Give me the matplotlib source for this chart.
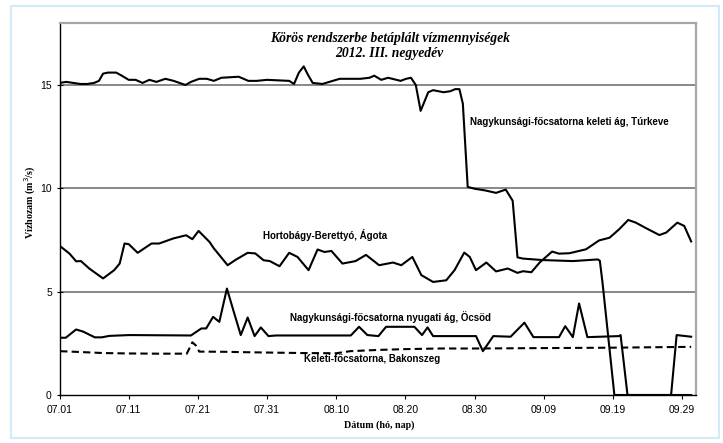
import matplotlib
matplotlib.use("Agg")
import matplotlib.pyplot as plt
from matplotlib.patches import Rectangle

# ---- data (day index from 07.01, value m3/s) ----
turkeve_days = [0, 1, 2, 3, 4, 5, 5.7, 6.3, 7, 8.2, 9, 10, 11, 12, 13, 14, 15.3, 16.5, 18.2, 19,
                20.2, 21.3, 22.3, 23.4, 25.9, 27.3, 28.5, 30, 33.2, 33.9, 34.6, 35.3, 35.9, 36.6, 38,
                39.5, 40.5, 43.5, 44.8, 45.5, 46.5, 47.5, 49.3, 50.1, 50.8, 51.5, 52.2, 53.3, 54,
                55.5, 56.5, 57.2, 57.8, 58.3, 59.0, 60, 61.5, 63.1, 64.5, 65.5, 66.2, 67, 69.8,
                74.2, 77.8, 78.1, 78.5, 80.2, 91.3]
turkeve_vals = [15.1, 15.15, 15.1, 15.05, 15.05, 15.1, 15.2, 15.55, 15.6, 15.6, 15.45, 15.25, 15.25,
                15.1, 15.25, 15.15, 15.3, 15.2, 15.0, 15.15, 15.3, 15.3, 15.2, 15.35, 15.4, 15.2,
                15.2, 15.25, 15.2, 15.05, 15.6, 15.9, 15.5, 15.1, 15.05, 15.2, 15.3, 15.3, 15.35,
                15.45, 15.25, 15.35, 15.2, 15.3, 15.35, 15.0, 13.75, 14.65, 14.75, 14.65, 14.7,
                14.8, 14.8, 14.1, 10.07, 9.98, 9.9, 9.78, 9.94, 9.4, 6.66, 6.6, 6.53, 6.48, 6.56,
                6.5, 5.4, 0.0, 0.0]

agota_days = [0.1, 1.45, 2.4, 3.1, 4.3, 6.3, 7.9, 8.7, 9.4, 10, 11.3, 13.3, 14.4, 16.4, 18.3,
              19.2, 20.1, 21.7, 22.3, 24.3, 25.5, 27.2, 28.3, 29.5, 30.4, 31.8, 33.2, 34.4, 36.0,
              37.3, 38.3, 39.3, 40.9, 42.8, 44.3, 46.2, 48.2, 49.4, 51.0, 52.3, 54.0, 55.9, 57.1,
              58.5, 59.3, 60.2, 61.7, 63.1, 64.8, 66.2, 67.0, 68.2, 69.4, 71.2, 72.2, 73.7, 76.1,
              78.0, 79.5, 80.9, 82.2, 83.3, 84.8, 86.7, 87.7, 89.3, 90.3, 91.3]
agota_vals = [7.2, 6.84, 6.47, 6.48, 6.12, 5.64, 6.04, 6.36, 7.33, 7.3, 6.88, 7.33, 7.33, 7.57,
              7.73, 7.54, 7.94, 7.4, 7.1, 6.28, 6.55, 6.88, 6.85, 6.52, 6.48, 6.23, 6.88, 6.68,
              6.04, 7.04, 6.92, 6.97, 6.36, 6.48, 6.78, 6.28, 6.41, 6.28, 6.68, 5.8, 5.47, 5.55,
              6.04, 6.89, 6.68, 6.04, 6.41, 5.98, 6.12, 5.91, 5.99, 5.94, 6.41, 6.94, 6.84, 6.86,
              7.05, 7.48, 7.61, 8.02, 8.47, 8.34, 8.07, 7.74, 7.86, 8.34, 8.18, 7.43]

ocsod_days = [0.1, 0.9, 2.4, 3.4, 5.1, 6.1, 7.2, 10.1, 19.0, 20.5, 21.2, 22.2, 23.1, 24.2, 25.3,
              26.2, 27.2, 28.2, 29.1, 30.2, 31.3, 42.1, 43.3, 44.5, 46.1, 47.2, 51.3, 52.4, 53.2,
              54.0, 60.2, 61.2, 62.7, 65.2, 67.2, 68.5, 72.2, 73.1, 74.2, 75.1, 76.3, 80.9, 81.1,
              82.1, 88.4, 89.2, 91.3]
ocsod_vals = [2.77, 2.77, 3.17, 3.07, 2.79, 2.79, 2.86, 2.9, 2.88, 3.22, 3.22, 3.78, 3.54, 5.15,
              3.9, 2.9, 3.75, 2.85, 3.27, 2.85, 2.88, 2.88, 3.3, 2.9, 2.85, 3.3, 3.3, 2.9, 3.27,
              2.85, 2.85, 2.12, 2.85, 2.82, 3.5, 2.8, 2.8, 3.33, 2.8, 4.43, 2.8, 2.85, 2.9, 0.0,
              0.0, 2.9, 2.82]

bakonszeg_days = [0.1, 3, 6.3, 10, 14, 18.4, 19.2, 19.7, 20.2, 24, 27, 31, 35, 40, 42, 46, 50, 55,
                  60, 70, 80, 91.3]
bakonszeg_vals = [2.12, 2.08, 2.03, 2.01, 2.0, 2.0, 2.55, 2.4, 2.1, 2.09, 2.07, 2.05, 2.03, 2.02,
                  2.12, 2.18, 2.22, 2.25, 2.25, 2.27, 2.29, 2.33]

tick_days = [0, 10, 20, 30, 40, 50, 60, 70, 80, 90]
tick_labels = ["07.01", "07.11", "07.21", "07.31", "08.10", "08.20", "08.30", "09.09", "09.19", "09.29"]
y_ticks = [0, 5, 10, 15]

W, H = 723, 443
fig = plt.figure(figsize=(W / 100, H / 100), dpi=100)
fig.patch.set_facecolor("white")

# outer light-blue frame
fig.patches.append(Rectangle((11 / W, 1 - 438 / H), (719 - 11) / W, (438 - 6) / H,
                             transform=fig.transFigure, fill=False,
                             edgecolor="#d2eaf9", linewidth=1.6))

ax = fig.add_axes([59.5 / W, (H - 395) / H, (696 - 59.5) / W, (395 - 23) / H])
ax.set_xlim(0, 92)
ax.set_ylim(0, 18)

for yv in [5, 10, 15]:
    ax.axhline(yv, color="#7f7f7f", lw=1.3, zorder=1)

lw = 1.5
ax.plot(turkeve_days, turkeve_vals, color="black", lw=lw, zorder=3, solid_joinstyle="round")
ax.plot(agota_days, agota_vals, color="black", lw=lw, zorder=3, solid_joinstyle="round")
ax.plot(ocsod_days, ocsod_vals, color="black", lw=lw, zorder=3, solid_joinstyle="round")
ax.plot(bakonszeg_days, bakonszeg_vals, color="black", lw=1.5, zorder=3,
        linestyle=(0, (3.5, 2.0)))

ax.set_xticks(tick_days)
ax.set_xticklabels(tick_labels)
ax.set_yticks(y_ticks)
ax.tick_params(axis="x", direction="out", length=3, width=0.8, labelsize=7.5, pad=4)
ax.tick_params(axis="y", direction="inout", length=5, width=0.8, labelsize=7.5, pad=3)
for lab in ax.get_xticklabels() + ax.get_yticklabels():
    lab.set_fontfamily("Liberation Sans")

ax.spines["left"].set_color("black")
ax.spines["bottom"].set_color("black")
ax.spines["top"].set_color("#a6a6a6")
ax.spines["right"].set_color("#a6a6a6")
for s in ax.spines.values():
    s.set_linewidth(1.0)
ax.spines["top"].set_linewidth(1.6)
ax.spines["right"].set_linewidth(1.6)

lab_kw = dict(fontsize=7.0, fontweight="bold", family="Liberation Sans", ha="left", va="center")
ax.text(59.4, 13.22, "Nagykunsági-főcsatorna keleti ág, Túrkeve", **lab_kw)
ax.text(29.46, 7.74, "Hortobágy-Berettyó, Ágota", **lab_kw)
ax.text(33.27, 3.76, "Nagykunsági-főcsatorna nyugati ág, Öcsöd", **lab_kw)
ax.text(35.28, 1.73, "Keleti-főcsatorna, Bakonszeg", **lab_kw)

title_kw = dict(fontsize=9.8, fontweight="bold", fontstyle="italic", family="Liberation Serif",
                ha="center", va="center")
fig.text(390.5 / W, 1 - 38.3 / H, "Körös rendszerbe betáplált vízmennyiségek", **title_kw)
fig.text(389 / W, 1 - 53 / H, "2012. III. negyedév", **title_kw)

fig.text(30 / W, 1 - 202.5 / H, "Vízhozam (m$^{3}$/s)", rotation=90, fontsize=7.2,
         fontweight="bold", family="Liberation Serif", ha="center", va="center")
fig.text(379 / W, 1 - 425 / H, "Dátum (hó, nap)", fontsize=7.2, fontweight="bold",
         family="Liberation Serif", ha="center", va="center")

fig.savefig("out.png", dpi=100, facecolor="white")
